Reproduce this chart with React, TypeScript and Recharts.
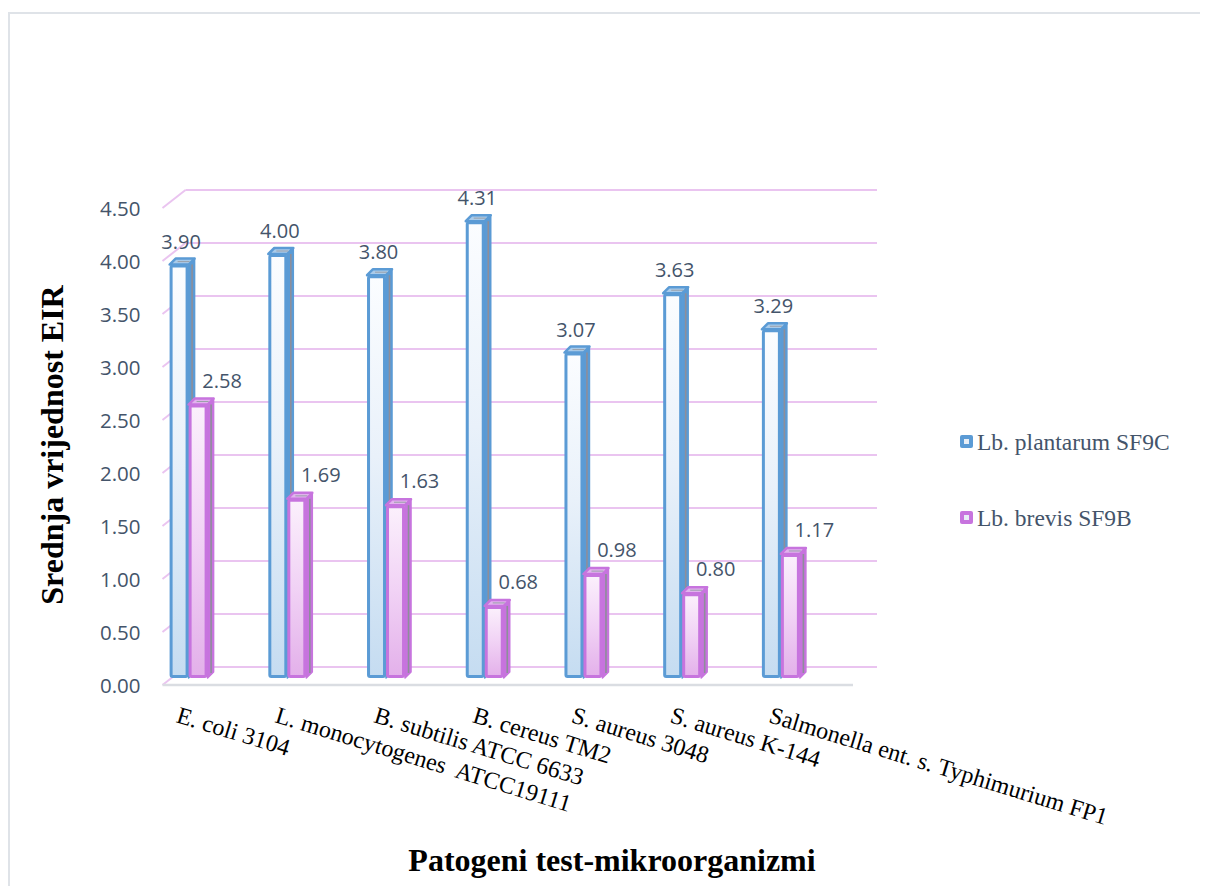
import React from 'react';
import { BarChart, Bar, XAxis, YAxis, CartesianGrid, LabelList } from 'recharts';

const categories = [
  'E. coli 3104',
  'L. monocytogenes  ATCC19111',
  'B. subtilis ATCC 6633',
  'B. cereus TM2',
  'S. aureus 3048',
  'S. aureus K-144',
  'Salmonella ent. s. Typhimurium FP1',
];
const plantarum = [3.9, 4.0, 3.8, 4.31, 3.07, 3.63, 3.29];
const brevis = [2.58, 1.69, 1.63, 0.68, 0.98, 0.8, 1.17];
const yTicks = [0, 0.5, 1, 1.5, 2, 2.5, 3, 3.5, 4, 4.5];
const seriesNames = ['Lb. plantarum SF9C', 'Lb. brevis SF9B'];

const data = categories.map((name, i) => ({ name, plantarum: plantarum[i], brevis: brevis[i] }));

const W = 1200;
const H = 878;
const MARGIN = { top: 193, right: 378, bottom: 148, left: 31 };
const YAXIS_W = 100;
const XAXIS_H = 60;

const BLUE = { stroke: '#5B9BD5', top: '#A9CBEA', grad: 'gBlue' };
const PINK = { stroke: '#C774DE', top: '#E2B2EE', grad: 'gPink' };

const TEXT = '#44546A';
const GRID = '#EAC4F0';
const SERIF = "'Liberation Serif', 'Times New Roman', serif";

const D = 6;
const DV = 6;

function Bar3D(props: any) {
  const { x, y, width: w, height: h, c } = props;
  if (h == null || w == null) return null;
  return (
    <g>
      <polygon
        points={`${x + w},${y} ${x + w + D},${y - DV} ${x + w + D},${y + h - DV} ${x + w},${y + h}`}
        fill={c.stroke}
        stroke={c.stroke}
        strokeWidth={1.5}
        strokeLinejoin="round"
      />
      <line x1={x + w + D / 2 + 0.5} y1={y - DV / 2 + 3} x2={x + w + D / 2 + 0.5} y2={y + h - DV / 2 - 2} stroke="#8E8E9A" strokeWidth={1.6} />
      <polygon
        points={`${x},${y} ${x + D},${y - DV} ${x + w + D},${y - DV} ${x + w},${y}`}
        fill={c.top}
        stroke={c.stroke}
        strokeWidth={2.5}
        strokeLinejoin="round"
      />
      <line x1={x + D + 2} y1={y - DV / 2} x2={x + w + 1} y2={y - DV / 2} stroke="#9AA0AA" strokeWidth={1} />
      <rect x={x + 1.5} y={y + 1.5} width={w - 3} height={Math.max(h - 3, 0)} fill={`url(#${c.grad})`} stroke={c.stroke} strokeWidth={3} rx={1.5} />
    </g>
  );
}

function gridLine(props: any) {
  const { x1, x2, y1, key } = props;
  const frontL = x1 + 23.5;
  const backL = x1 + 46.5;
  const backR = x2 + 47;
  const isBottom = Math.abs(y1 - (H - MARGIN.bottom - XAXIS_H)) < 1;
  return (
    <g key={key}>
      <line x1={backL} y1={y1 - 11} x2={backR} y2={y1 - 11} stroke={GRID} strokeWidth={2} />
      <line x1={frontL} y1={y1 + 7} x2={backL} y2={y1 - 11} stroke={GRID} strokeWidth={2} />
      {isBottom && <line x1={frontL} y1={y1 + 7} x2={x2 + 23} y2={y1 + 7} stroke="#DADDE2" strokeWidth={2.5} />}
    </g>
  );
}

function YTick(props: any) {
  const { x, y, payload } = props;
  return (
    <text x={x + 1.5} y={y + 8} dy="0.35em" textAnchor="end" fill={TEXT} fontSize={20.5} fontFamily="'Open Sans', sans-serif">
      {payload.value.toFixed(2)}
    </text>
  );
}

function XTick(props: any) {
  const { x, y, payload } = props;
  const tx = x - 13;
  const ty = y + 44;
  return (
    <text
      x={tx}
      y={ty}
      transform={`rotate(17, ${tx}, ${ty})`}
      textAnchor="start"
      fill="#000"
      fontSize={24}
      fontFamily={SERIF}
      style={{ whiteSpace: 'pre' }}
    >
      {payload.value}
    </text>
  );
}

function makeLabel(dxOff: number, dyOff: number) {
  return (props: any) => {
    const { x, y, width, value } = props;
    return (
      <text
        x={x + width / 2 + dxOff}
        y={y - dyOff}
        dy="0.35em"
        textAnchor="middle"
        fill={TEXT}
        fontSize={20}
        fontFamily="'Open Sans', sans-serif"
      >
        {Number(value).toFixed(2)}
      </text>
    );
  };
}

function LegendMarker({ c }: { c: any }) {
  return (
    <span
      style={{
        display: 'inline-block',
        width: 13,
        height: 13,
        background: c.stroke,
        borderRadius: 2,
        position: 'relative',
        marginRight: 4,
        verticalAlign: 'middle',
      }}
    >
      <span style={{ position: 'absolute', left: 4, top: 4, width: 5, height: 5, background: '#E8EEF6' }} />
    </span>
  );
}

export default function App() {
  return (
    <div style={{ position: 'relative', width: W, height: H, overflow: 'hidden', background: '#fff' }}>
      <div
        style={{
          position: 'absolute',
          left: 0,
          top: 4,
          width: 1400,
          height: 1000,
          borderTop: '2px solid #DFE3E8',
          borderLeft: '2px solid #DFE3E8',
        }}
      />
      <div style={{ position: 'absolute', left: 0, top: 0 }}>
        <BarChart width={W} height={H} data={data} margin={MARGIN} barCategoryGap="31%" barGap={0}>
          <defs>
            <linearGradient id="gBlue" x1="0" y1="0" x2="0" y2="1">
              <stop offset="0%" stopColor="#FBFDFF" />
              <stop offset="45%" stopColor="#E9F1FA" />
              <stop offset="100%" stopColor="#C5DCF1" />
            </linearGradient>
            <linearGradient id="gPink" x1="0" y1="0" x2="0" y2="1">
              <stop offset="0%" stopColor="#FBF0FC" />
              <stop offset="50%" stopColor="#F1D2F5" />
              <stop offset="100%" stopColor="#E3B0EA" />
            </linearGradient>
          </defs>
          <CartesianGrid vertical={false} horizontal={gridLine} />
          <XAxis
            dataKey="name"
            interval={0}
            axisLine={false}
            tickLine={false}
            tickSize={0}
            tickMargin={0}
            height={XAXIS_H}
            tick={<XTick />}
          />
          <YAxis
            domain={[0, 4.5]}
            ticks={yTicks}
            axisLine={false}
            tickLine={false}
            tickSize={0}
            tickMargin={0}
            width={YAXIS_W}
            tick={<YTick />}
          />
          <Bar dataKey="plantarum" name={seriesNames[0]} isAnimationActive={false} shape={(p: any) => <Bar3D {...p} c={BLUE} />}>
            <LabelList dataKey="plantarum" content={makeLabel(2, 23)} />
          </Bar>
          <Bar dataKey="brevis" name={seriesNames[1]} isAnimationActive={false} shape={(p: any) => <Bar3D {...p} c={PINK} />}>
            <LabelList dataKey="brevis" content={makeLabel(24, 24)} />
          </Bar>
        </BarChart>
      </div>
      <div
        style={{
          position: 'absolute',
          left: 952,
          top: 418,
          fontFamily: SERIF,
          fontSize: 23.5,
          color: TEXT,
          lineHeight: '26px',
        }}
      >
        <div style={{ whiteSpace: 'nowrap' }}>
          <LegendMarker c={BLUE} />
          <span style={{ verticalAlign: 'middle' }}>{seriesNames[0]}</span>
        </div>
        <div style={{ whiteSpace: 'nowrap', marginTop: 47 }}>
          <LegendMarker c={PINK} />
          <span style={{ verticalAlign: 'middle' }}>{seriesNames[1]}</span>
        </div>
      </div>
      <div
        style={{
          position: 'absolute',
          left: 44,
          top: 437,
          transform: 'translate(-50%, -50%) rotate(-90deg)',
          whiteSpace: 'nowrap',
          fontFamily: SERIF,
          fontWeight: 'bold',
          fontSize: 32,
          color: '#000',
        }}
      >
        Srednja vrijednost EIR
      </div>
      <div
        style={{
          position: 'absolute',
          left: 604,
          top: 852,
          transform: 'translate(-50%, -50%)',
          whiteSpace: 'nowrap',
          fontFamily: SERIF,
          fontWeight: 'bold',
          fontSize: 32,
          color: '#000',
        }}
      >
        Patogeni test-mikroorganizmi
      </div>
    </div>
  );
}
